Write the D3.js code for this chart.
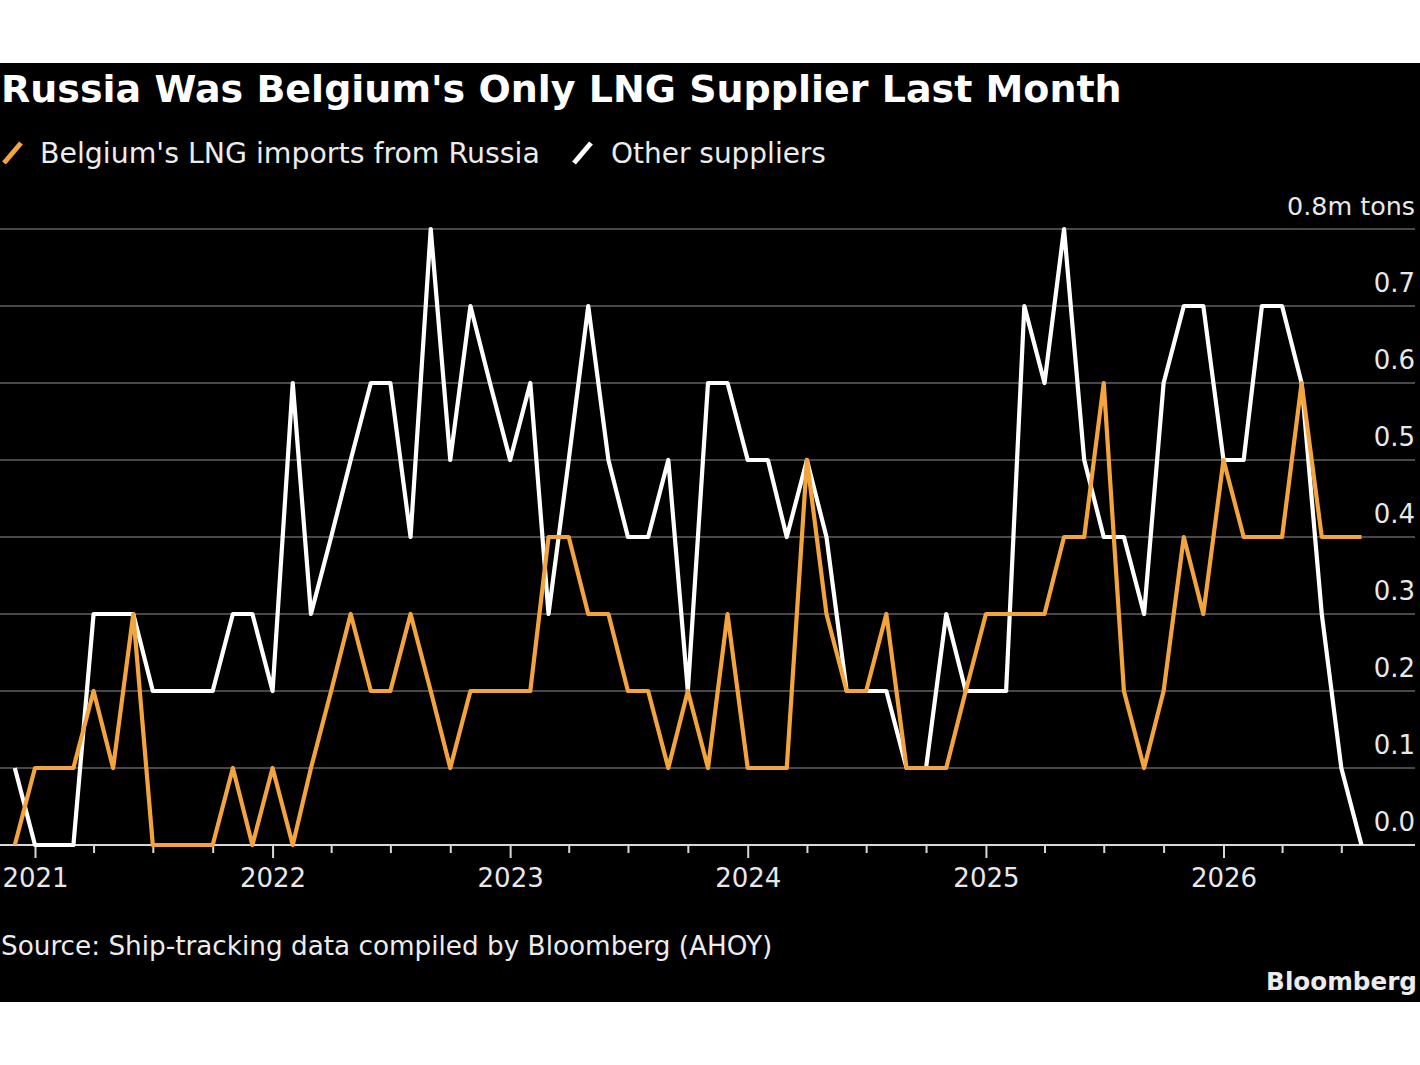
<!DOCTYPE html>
<html><head><meta charset="utf-8">
<script src="https://cdn.jsdelivr.net/npm/d3@7"></script>
<style>html,body{margin:0;padding:0;background:#fff;} svg{display:block}</style>
</head><body><svg id="c" width="1420" height="1065"></svg>
<script>
// ---------- data ----------
const months = [
 "2020-12",
 "2021-01","2021-02","2021-03","2021-04","2021-05","2021-06","2021-07","2021-08","2021-09","2021-10","2021-11","2021-12",
 "2022-01","2022-02","2022-03","2022-04","2022-05","2022-06","2022-07","2022-08","2022-09","2022-10","2022-11","2022-12",
 "2023-01","2023-02","2023-03","2023-04","2023-05","2023-06","2023-07","2023-08","2023-09","2023-10","2023-11","2023-12",
 "2024-01","2024-02","2024-03","2024-04","2024-05","2024-06","2024-07","2024-08","2024-09","2024-10","2024-11","2024-12",
 "2025-01","2025-02","2025-03","2025-04","2025-05","2025-06","2025-07","2025-08","2025-09","2025-10","2025-11","2025-12",
 "2026-01","2026-02","2026-03","2026-04","2026-05","2026-06","2026-07","2026-08"
];
const russia = [
 0.0,
 0.1,0.1,0.1,0.2,0.1,0.3,0.0,0.0,0.0,0.0,0.1,0.0,
 0.1,0.0,0.1,0.2,0.3,0.2,0.2,0.3,0.2,0.1,0.2,0.2,
 0.2,0.2,0.4,0.4,0.3,0.3,0.2,0.2,0.1,0.2,0.1,0.3,
 0.1,0.1,0.1,0.5,0.3,0.2,0.2,0.3,0.1,0.1,0.1,0.2,
 0.3,0.3,0.3,0.3,0.4,0.4,0.6,0.2,0.1,0.2,0.4,0.3,
 0.5,0.4,0.4,0.4,0.6,0.4,0.4,0.4
];
const others = [
 0.1,
 0.0,0.0,0.0,0.3,0.3,0.3,0.2,0.2,0.2,0.2,0.3,0.3,
 0.2,0.6,0.3,0.4,0.5,0.6,0.6,0.4,0.8,0.5,0.7,0.6,
 0.5,0.6,0.3,0.5,0.7,0.5,0.4,0.4,0.5,0.2,0.6,0.6,
 0.5,0.5,0.4,0.5,0.4,0.2,0.2,0.2,0.1,0.1,0.3,0.2,
 0.2,0.2,0.7,0.6,0.8,0.5,0.4,0.4,0.3,0.6,0.7,0.7,
 0.5,0.5,0.7,0.7,0.6,0.3,0.1,0.0
];
const yTicks = [0,0.1,0.2,0.3,0.4,0.5,0.6,0.7,0.8];
const yTickLabels = ["0.0","0.1","0.2","0.3","0.4","0.5","0.6","0.7","0.8m tons"];
const yearTicks = ["2021","2022","2023","2024","2025","2026"];
const seriesNames = ["Belgium's LNG imports from Russia","Other suppliers"];
const seriesColors = ["#f3a43c","#ffffff"];
const titleText = "Russia Was Belgium's Only LNG Supplier Last Month";
const sourceText = "Source: Ship-tracking data compiled by Bloomberg (AHOY)";
const brandText = "Bloomberg";

// ---------- setup ----------
const svg = d3.select("#c");
const FONT = "'DejaVu Sans', Verdana, sans-serif";
const parse = d3.timeParse("%Y-%m");
const dates = months.map(parse);

svg.append("rect").attr("x",0).attr("y",63).attr("width",1420).attr("height",939).attr("fill","#000");

const x = d3.scaleTime()
  .domain([new Date(2021,0,1), new Date(2026,0,1)])
  .range([35, 1223.5]);
const y = d3.scaleLinear().domain([0,0.8]).range([845,229]);
const plotLeft = 0, plotRight = 1415;

function fit(t, w){
  const l = t.node().getComputedTextLength();
  const fs = parseFloat(t.attr("font-size"));
  if (l > 0) t.attr("font-size", fs*w/l);
  return t;
}

// gridlines
svg.append("g").selectAll("line").data(yTicks.filter(v=>v>0)).join("line")
  .attr("x1",plotLeft).attr("x2",plotRight)
  .attr("y1",d=>y(d)).attr("y2",d=>y(d))
  .attr("stroke","#606060").attr("stroke-width",1.5);

// y labels
const yl = svg.append("g").selectAll("text").data(yTicks).join("text")
  .attr("x",plotRight).attr("y",d=>y(d)-14)
  .attr("text-anchor","end").attr("fill","#e8e8e8")
  .attr("font-family",FONT).attr("font-size",26)
  .text((d,i)=>yTickLabels[i]);
fit(yl.filter((d,i)=>i===yTicks.length-1), 128);

// x axis baseline
svg.append("line").attr("x1",plotLeft).attr("x2",plotRight)
  .attr("y1",y(0)).attr("y2",y(0)).attr("stroke","#d8d8d8").attr("stroke-width",2);

// quarter ticks
const quarterTicks = d3.timeMonth.every(3).range(new Date(2021,0,1), new Date(2026,8,1))
  .filter(d=>d.getMonth()!==0);
const yearDates = yearTicks.map(s=>new Date(+s,0,1));
const gq = svg.append("g").attr("transform",`translate(0,${y(0)})`)
  .call(d3.axisBottom(x).tickValues(quarterTicks).tickSize(8).tickFormat(""));
gq.select(".domain").remove();
gq.selectAll(".tick line").attr("stroke","#d8d8d8").attr("stroke-width",2);
const gy = svg.append("g").attr("transform",`translate(0,${y(0)})`)
  .call(d3.axisBottom(x).tickValues(yearDates).tickSize(13).tickPadding(0).tickFormat(d3.timeFormat("%Y")));
gy.select(".domain").remove();
gy.selectAll(".tick line").attr("stroke","#d8d8d8").attr("stroke-width",2);
gy.selectAll(".tick text").attr("fill","#e8e8e8").attr("font-family",FONT).attr("font-size",26)
  .attr("y",42).attr("dy",0);

// lines
const line = d3.line().x((d,i)=>x(dates[i])).y(d=>y(d)).curve(d3.curveLinear);
svg.append("path").datum(others).attr("d",line)
  .attr("fill","none").attr("stroke",seriesColors[1]).attr("stroke-width",4.2)
  .attr("stroke-linejoin","round");
svg.append("path").datum(russia).attr("d",line)
  .attr("fill","none").attr("stroke",seriesColors[0]).attr("stroke-width",4.2)
  .attr("stroke-linejoin","round");

// title
fit(svg.append("text").attr("x",1).attr("y",102).attr("fill","#fff")
  .attr("font-family",FONT).attr("font-weight","bold").attr("font-size",36)
  .text(titleText), 1121);

// legend
const legendX = [[4,40,500],[574,611,215]];
seriesNames.forEach((n,i)=>{
  const [sx,tx,w] = legendX[i];
  svg.append("line").attr("x1",sx).attr("y1",163).attr("x2",sx+17).attr("y2",143)
    .attr("stroke",seriesColors[i]).attr("stroke-width",5);
  fit(svg.append("text").attr("x",tx).attr("y",163).attr("fill","#ececec")
    .attr("font-family",FONT).attr("font-size",27).text(n), w);
});

// source & brand
fit(svg.append("text").attr("x",1).attr("y",955).attr("fill","#ececec")
  .attr("font-family",FONT).attr("font-size",27).text(sourceText), 772);
fit(svg.append("text").attr("x",1417).attr("y",990).attr("text-anchor","end").attr("fill","#ececec")
  .attr("font-family",FONT).attr("font-weight","bold").attr("font-size",27).text(brandText), 151);
</script>
</body></html>
